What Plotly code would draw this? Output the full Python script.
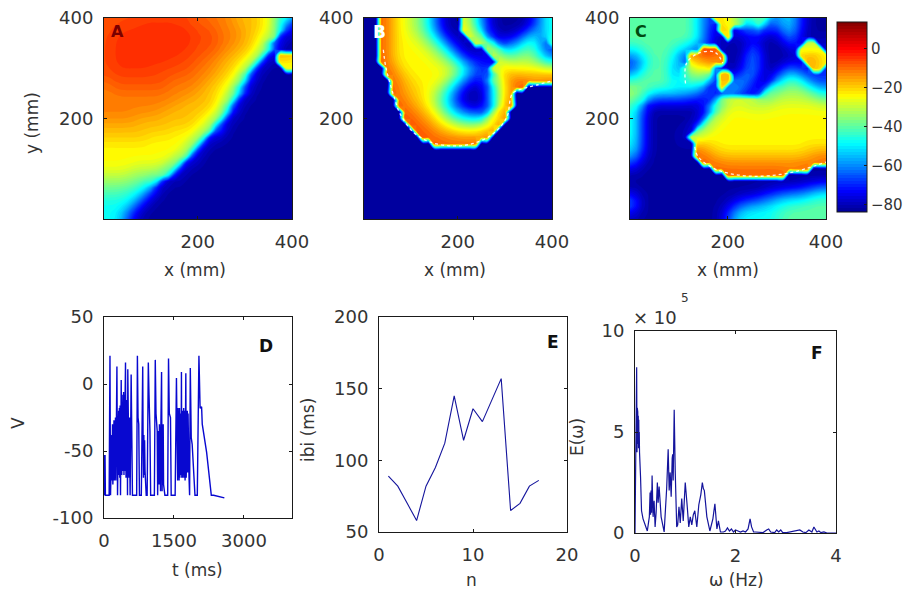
import plotly.graph_objects as go

W, H = 903, 598

# level codes used in the painted maps -> membrane potential (mV)
LEVEL_CODES = "0123456789a"
LEVEL_VALUES = [-82, -72, -60, -48, -40, -32, -24, -18, -12, -7, -4]

MAP_A = [
"999999999999999988888877777665433",
"999999aaaaaaaa9999988887777665320",
"999aaaaaaaaaaaaa99998888777665310",
"99aaaaaaaaaaaaaa99998888777664200",
"99aaaaaaaaaaaaaa99998887776531000",
"99aaaaaaaaaaaaa999998887776542000",
"99aaaaaaaaaaaa9999888777766310675",
"99aaaaaaaaaa999998887776653100788",
"99aaaaaaa999999988887776631000036",
"999999999999999888877766310000000",
"899999999999888888777665310000000",
"889999999998888887776653100000000",
"888888888888888877766643100000000",
"888888888888887777776531000000000",
"888888888888777777766310000000000",
"888888888877777777665310000000000",
"888888777777777766653100000000000",
"777777777777777766531000000000000",
"777777777777666665421000000000000",
"777777776666666653100000000000000",
"666666666666666531000000000000000",
"666666666666665310000000000000000",
"666666666666654200000000000000000",
"666666666665531000000000000000000",
"666665555554310000000000000000000",
"555555555443100000000000000000000",
"555554444310000000000000000000000",
"444444432100000000000000000000000",
"444433321000000000000000000000000",
"333333210000000000000000000000000",
"333332100000000000000000000000000",
"333321000000000000000000000000000",
"333210000000000000000000000000000",
]

MAP_B = [
"000987665543210006532100000001233",
"000987665543210007532100000001234",
"000987665543210007643100000012324",
"000987666554321001754210001233215",
"000987666655432100075432112334314",
"000987666665543210001754333444211",
"000987666666554321000165444554321",
"000987666666655432211016555555443",
"000098766666666654322157766666655",
"000098776666666543211136787767778",
"000009877666665432111246789999999",
"000009877766654321000135679900000",
"000009877766543210000135790000000",
"000000987766543210000135790000000",
"000000988776543211000135790000000",
"000000098877654322111247900000000",
"000000099887765443333457900000000",
"000000009988776655555679000000000",
"000000000998877766667790000000000",
"000000000099988888888900000000000",
"000000000000999999990000000000000",
"000000000000000000000000000000000",
"000000000000000000000000000000000",
"000000000000000000000000000000000",
"000000000000000000000000000000000",
"000000000000000000000000000000000",
"000000000000000000000000000000000",
"000000000000000000000000000000000",
"000000000000000000000000000000000",
"000000000000000000000000000000000",
"000000000000000000000000000000000",
"000000000000000000000000000000000",
"000000000000000000000000000000000",
]

MAP_C = [
"444444444443217665445653133210000",
"444444444443211765433432133210000",
"444444444443210771111211023210000",
"444444444443210171001000013100000",
"444444444443210000002000002103410",
"334444443211999100003100000157651",
"223444432189aa9800013100000168965",
"112344432167887700013100000017a86",
"113444431456662100013100012101652",
"234444431455541761023100123321111",
"344444432444431972331001234432111",
"554444443333211633210013445544322",
"654433333322100111111234555555443",
"543211111111113455555555555555544",
"432000000000024556655555666666666",
"431000000000024566666666666666666",
"431000000000245666666666666666666",
"431000000001356666666666666666666",
"431000000013566666666666666666666",
"431000000156666666666666666666666",
"331000000007766666666666666666666",
"331000000009877666666666666667777",
"321000000009887777777777777777888",
"210000000000998888888888888888899",
"100000000000009988888888888899000",
"000000000000000099999999990000000",
"000000000000000000000000000000000",
"000000000000000000000000000011122",
"100000000000000000000011122222333",
"310000000000000000111122333334444",
"310000000000000011223333334444444",
"100000000000000012333333444444444",
"000000000000000023333333344444444",
]

GRID_X = [1 + i * 399 / 32 for i in range(33)]
GRID_Y = [400 - i * 399 / 32 for i in range(33)]

# dotted white wave fronts (mm)
FRONT_B_X = [42, 47, 56, 67, 77, 105, 141, 190, 233, 275, 304, 316, 339, 368, 396]
FRONT_B_Y = [337, 304, 271, 237, 211, 174, 154, 146, 151, 170, 203, 250, 260, 267, 274]
FRONT_C_X = [133, 140, 180, 248, 323, 400, None, 114, 116, 140, 174, 190]
FRONT_C_Y = [144, 124, 98, 86, 92, 114, None, 270, 310, 330, 332, 310]

# D: membrane voltage trace
D_T = [0,12,22,30,110,128,140,150,158,166,174,182,190,198,206,214,222,230,238,246,254,262,277,290,298,306,314,322,330,338,346,354,369,380,388,396,404,412,420,428,436,444,452,461,472,480,488,496,504,510,520,528,536,544,552,560,582,595,610,700,716,730,745,760,800,815,830,838,846,854,862,870,880,895,905,925,950,965,985,1000,1080,1099,1115,1140,1150,1165,1180,1188,1196,1204,1212,1220,1234,1245,1253,1261,1269,1277,1290,1305,1365,1383,1400,1425,1440,1480,1525,1553,1562,1570,1578,1586,1594,1602,1610,1618,1626,1634,1652,1660,1668,1676,1684,1692,1700,1708,1716,1724,1738,1746,1754,1762,1770,1778,1786,1794,1802,1823,1835,1850,1870,1890,1950,1972,2000,2035,2060,2092,2106,2200,2300,2350,2450,2580]
D_V = [-53,-83,-53,-83,-83,21,-83,-40,-72,-38,-72,-30,-75,-28,-70,-27,-72,-26,-70,-25,-72,-24,13,-83,-22,-70,-20,-68,-18,-70,-16,-83,3,-68,-10,-68,-8,-65,-6,-68,-8,-65,-10,16,-70,-12,-68,-15,-83,11,-70,-20,-70,-25,-70,-83,7,-40,-83,-83,21,-25,-30,-83,-83,-35,13,-40,-70,-38,-68,-42,-65,-83,-83,-83,16,-8,-35,-83,-83,18,-22,-35,-83,-35,-75,-30,-78,-32,-80,-30,9,-80,-30,-78,-30,-75,-83,-83,-83,19,-22,-25,-83,-83,-83,4.5,-70,-20,-72,-18,-70,-20,-72,-18,-70,-22,-68,9,-70,-22,-70,-20,-68,-18,-70,-20,-72,-22,8,-70,-22,-68,-20,-66,-22,-70,-83,12,-40,-45,-83,-83,-83,21,-18,-17,-30,-51,-83,-83,-84,-85,-85,-85]

# E: inter-burst intervals
E_N = list(range(1, 18))
E_IBI = [89, 82, 70, 58, 82, 95, 112, 145, 114, 136, 127, 142, 157, 65, 70, 82, 86]

# F: power spectrum (units of 10^5)
F_W = [0,0.02,0.033,0.04,0.045,0.05,0.055,0.06,0.065,0.07,0.075,0.08,0.085,0.09,0.11,0.13,0.16,0.2,0.245,0.285,0.3,0.31,0.32,0.33,0.34,0.36,0.38,0.4,0.42,0.445,0.46,0.48,0.5,0.52,0.58,0.6,0.63,0.66,0.68,0.70,0.72,0.74,0.75,0.76,0.78,0.8,0.83,0.85,0.875,0.9,0.93,0.96,1.0,1.04,1.07,1.1,1.13,1.16,1.19,1.23,1.27,1.31,1.34,1.36,1.38,1.43,1.49,1.55,1.59,1.63,1.66,1.7,1.76,1.8,1.84,1.88,1.92,1.96,2.0,2.05,2.1,2.15,2.2,2.25,2.29,2.32,2.36,2.4,2.55,2.62,2.66,2.7,2.78,2.82,2.86,2.9,2.94,3.02,3.1,3.2,3.28,3.34,3.4,3.46,3.52,3.56,3.62,3.66,3.7,3.76,3.82,3.9,4]
F_E = [0,4,8.2,4,6.2,4.2,6,4.4,5.8,4.2,5.6,4.2,5,4,2.8,1.1,0.7,0.45,0.1,0.8,2,0.9,2.1,1,2.85,0.8,1.6,0.3,1,2.5,1.5,2.3,1.2,0.8,0.05,0.9,2.2,4.15,2.1,3,1.8,3.7,3.9,2.6,6.1,3.1,0.3,0.4,1.3,0.5,1.7,0.6,2.5,1.3,0.3,0.8,0.4,0.9,1.1,0.3,1.4,1.9,2.5,2.2,2.1,0.8,0.1,0.7,1.45,0.2,0.6,0.05,0.05,0.1,0.25,0.1,0.2,0.05,0.15,0.1,0.05,0.1,0.05,0.2,0.7,0.3,0.05,0.05,0.02,0.15,0.2,0.05,0.02,0.15,0.05,0.15,0.02,0.02,0.05,0.1,0.15,0.05,0.02,0.15,0.05,0.3,0.05,0.1,0.02,0.05,0,0,0]

JET = [[0, "rgb(0,0,143)"], [0.11, "rgb(0,0,255)"], [0.36, "rgb(0,255,255)"],
       [0.61, "rgb(255,255,0)"], [0.86, "rgb(255,0,0)"], [1, "rgb(128,0,0)"]]
TXT = "#333333"
FONT = "DejaVu Sans"
LINE = "#1a1a1a"


def decode(rows):
    return [[LEVEL_VALUES[LEVEL_CODES.index(c)] for c in r.ljust(33, r[-1])[:33]] for r in rows]


def soften(z, passes=2, limit=26):
    # even out the painted level steps, but keep the sharp wave fronts
    n = len(z)
    for _ in range(passes):
        out = [row[:] for row in z]
        for i in range(n):
            for j in range(n):
                total, weight = z[i][j] * 2.0, 2.0
                for a in (-1, 0, 1):
                    for b in (-1, 0, 1):
                        ii, jj = i + a, j + b
                        if (a or b) and 0 <= ii < n and 0 <= jj < n and abs(z[ii][jj] - z[i][j]) <= limit:
                            total += z[ii][jj]
                            weight += 1
                out[i][j] = total / weight
        z = out
    return z


def dom_x(a, b):
    return [a / W, b / W]


def dom_y(a, b):
    return [1 - b / H, 1 - a / H]


fig = go.Figure()

panels = [
    ("", "x", "y", (104, 292), (18, 219), MAP_A),
    ("2", "x2", "y2", (364, 552), (18, 219), MAP_B),
    ("3", "x3", "y3", (630, 826), (18, 219), MAP_C),
]
axis_common = dict(showgrid=False, zeroline=False, showline=True, linecolor=LINE, linewidth=1,
                   mirror="ticks", ticks="inside", ticklen=3, tickcolor=LINE,
                   tickfont=dict(family=FONT, size=18, color=TXT))
x_common = dict(axis_common, ticklabelstandoff=6)
y_common = dict(axis_common, ticklabelstandoff=6)
layout = {}
for suf, xa, ya, xd, yd, m in panels:
    fig.add_trace(go.Contour(z=soften(decode(m)), x=GRID_X, y=GRID_Y, coloraxis="coloraxis",
                             autocontour=False, contours=dict(start=-83, end=13, size=1.5, coloring="fill"),
                             line=dict(width=0), xaxis=xa, yaxis=ya, hoverinfo="skip"))
    layout["xaxis" + suf] = dict(x_common, domain=dom_x(*xd), range=[1, 400], tickvals=[200, 400], anchor=ya)
    layout["yaxis" + suf] = dict(y_common, domain=dom_y(*yd), range=[1, 400], tickvals=[200, 400], anchor=xa)

for fx, fy, xa, ya in [(FRONT_B_X, FRONT_B_Y, "x2", "y2"), (FRONT_C_X, FRONT_C_Y, "x3", "y3")]:
    fig.add_trace(go.Scatter(x=fx, y=fy, mode="lines", xaxis=xa, yaxis=ya, showlegend=False,
                             line=dict(color="rgba(255,255,255,0.9)", width=1.3, dash="dot", shape="spline"),
                             hoverinfo="skip"))

line_color = "#14149c"
fig.add_trace(go.Scatter(x=D_T, y=D_V, mode="lines", xaxis="x4", yaxis="y4", showlegend=False,
                         line=dict(color="#0808d0", width=1.4)))
fig.add_trace(go.Scatter(x=E_N, y=E_IBI, mode="lines", xaxis="x5", yaxis="y5", showlegend=False,
                         line=dict(color=line_color, width=1.1)))
fig.add_trace(go.Scatter(x=F_W, y=F_E, mode="lines", xaxis="x6", yaxis="y6", showlegend=False,
                         line=dict(color=line_color, width=1.2)))

layout["xaxis4"] = dict(x_common, domain=dom_x(104, 292), range=[0, 4030], tickvals=[0, 1500, 3000], anchor="y4")
layout["yaxis4"] = dict(y_common, domain=dom_y(317, 518), range=[-100, 50], tickvals=[-100, -50, 0, 50],
                        ticktext=["-100", "-50", "0", "50"], anchor="x4")
layout["xaxis5"] = dict(x_common, domain=dom_x(379, 567), range=[0, 20], tickvals=[0, 10, 20], anchor="y5")
layout["yaxis5"] = dict(y_common, domain=dom_y(317, 532), range=[50, 200], tickvals=[50, 100, 150, 200], anchor="x5")
layout["xaxis6"] = dict(x_common, domain=dom_x(635, 836), range=[0, 4], tickvals=[0, 2, 4], anchor="y6")
layout["yaxis6"] = dict(y_common, domain=dom_y(331, 533), range=[0, 10], tickvals=[0, 5, 10], anchor="x6")


def note(text, x, y, size=17, color=TXT, angle=0, bold=False):
    return dict(text=f"<b>{text}</b>" if bold else text, x=x / W, y=1 - y / H, xref="paper", yref="paper",
                showarrow=False, textangle=angle, xanchor="center", yanchor="middle",
                font=dict(family=FONT, size=size, color=color))


annotations = [
    note("A", 118, 32, 16, "#7a0000", bold=True),
    note("B", 379, 32, 17, "#ffffff", bold=True),
    note("C", 641, 32, 16, "#004a10", bold=True),
    note("D", 266, 346, 17, "#111111", bold=True),
    note("E", 553, 342, 17, "#111111", bold=True),
    note("F", 817, 353, 17, "#111111", bold=True),
    note("y (mm)", 32, 123, angle=-90),
    note("x (mm)", 195, 270),
    note("x (mm)", 455, 270),
    note("x (mm)", 728, 270),
    note("t (ms)", 197, 570),
    note("n", 471, 580),
    note("ω (Hz)", 736, 580),
    note("V", 18, 423, angle=-90),
    note("ibi (ms)", 308, 430, angle=-90),
    note("E(ω)", 577, 437, angle=-90),
    note("× 10", 655, 317, 18),
    note("5", 685, 298, 12),
]

fig.update_layout(
    width=W, height=H, margin=dict(l=0, r=0, t=0, b=0, autoexpand=False), showlegend=False,
    paper_bgcolor="white", plot_bgcolor="white", annotations=annotations,
    coloraxis=dict(
        cmin=-83, cmax=13, colorscale=JET,
        colorbar=dict(x=837 / W, xanchor="left", y=1 - 212 / H, yanchor="bottom", len=190, lenmode="pixels",
                      thickness=30, thicknessmode="pixels", outlinecolor=LINE, outlinewidth=1,
                      tickvals=[0, -20, -40, -60, -80], ticks="inside", ticklen=3, tickcolor=LINE,
                      tickfont=dict(family=FONT, size=15, color=TXT), xpad=0, ypad=0),
    ),
    **layout,
)

fig.write_html("out.html", config=dict(displayModeBar=False),
               post_script="document.body.style.margin='0';document.body.style.overflow='hidden';")
